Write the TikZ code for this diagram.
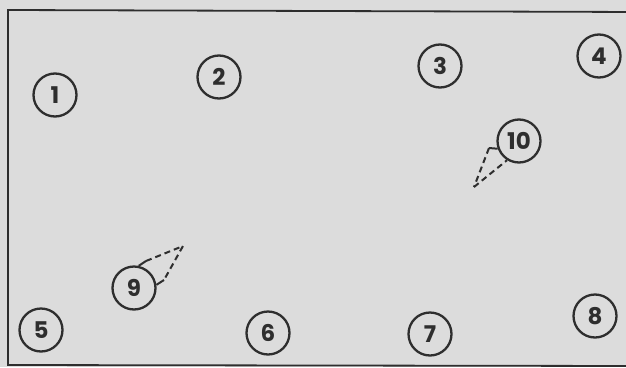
\documentclass[tikz,border=0pt]{standalone}
\usepackage{fontspec}
\setmainfont{Poppins}
\definecolor{bg}{HTML}{DCDCDC}
\definecolor{ink}{HTML}{2E2E2E}
\begin{document}
\begin{tikzpicture}[x=1pt,y=-1pt,
  numbox/.style={circle,draw=ink,line width=2.3pt,minimum size=43pt,inner sep=0pt,
    text=ink,font=\fontsize{23}{23}\selectfont\bfseries},
  conedash/.style={draw=ink,line width=2pt,dash pattern=on 6pt off 4pt},
  conesolid/.style={draw=ink,line width=2pt}]
\fill[bg] (0,0) rectangle (626,367);
\useasboundingbox (0,0) rectangle (626,367);
\begin{scope}
\clip (0,0) rectangle (626,367);
\draw[ink,line width=1.8pt] (640,12) -- (8,10) -- (8,365) -- (640,366);
\end{scope}
\node[numbox] (n1) at (55,95) {1};
\node[numbox] (n2) at (219,77) {2};
\node[numbox] (n3) at (440,66) {3};
\node[numbox] (n4) at (599,56) {4};
\node[numbox] (n5) at (41,330) {5};
\node[numbox] (n6) at (268,333) {6};
\node[numbox] (n7) at (430,334) {7};
\node[numbox] (n8) at (595,316) {8};
\node[numbox] (n9) at (134,288) {9};
\node[numbox] (n10) at (519,141) {10};
% cone of 9
\coordinate (a9) at (183,246);
\coordinate (t9) at (146,261);
\coordinate (b9) at (164,280);
\draw[conesolid] (n9.78) -- (t9);
\draw[conedash] (t9) -- (a9) -- (b9);
\draw[conesolid] (b9) -- (n9.8);
% cone of 10
\coordinate (a10) at (474,187);
\coordinate (t10) at (489,148);
\draw[conesolid] (n10.200) -- (t10);
\draw[conedash] (t10) -- (a10);
\draw[conedash] (a10) -- (n10.238);
\end{tikzpicture}
\end{document}
